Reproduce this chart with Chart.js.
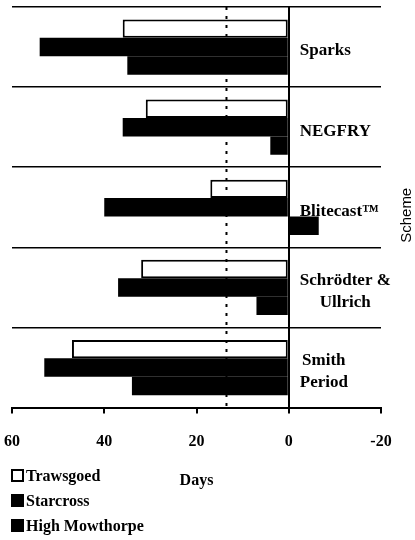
<!DOCTYPE html>
<html>
<head>
<meta charset="utf-8">
<script src="https://cdn.jsdelivr.net/npm/chart.js@4.4.1/dist/chart.umd.min.js"></script>
<style>
  body { margin: 0; background: #fff; }
  #wrap { position: relative; width: 415px; height: 540px; }
  #legend { position: absolute; left: 11px; top: 463px; font: bold 16px "Liberation Serif", serif; color: #000; }
  .item { display: flex; align-items: center; height: 25px; }
  .box { width: 9px; height: 9px; border: 2px solid #000; margin-right: 2px; }
</style>
</head>
<body>
<div id="wrap">
  <canvas id="chart"></canvas>
  <div id="legend"></div>
</div>
<script>
// Days per forecasting scheme at each site
const schemes = ['Sparks', 'NEGFRY', 'Blitecast™', ['Schrödter &', 'Ullrich'], ['Smith', 'Period']];
const trawsgoed = [36, 31, 17, 32, 47];
const starcross = [54, 36, 40, 37, 53];
const highMowthorpe = [35, 4, -6.5, 7, 34];
const dayTicks = [60, 40, 20, 0, -20];
const markerDay = 13.5;

const serif = 'Liberation Serif';

const series = [
  { label: 'Trawsgoed', data: trawsgoed, fill: '#fff' },
  { label: 'Starcross', data: starcross, fill: '#000' },
  { label: 'High Mowthorpe', data: highMowthorpe, fill: '#000' }
];

// dotted line, scheme names beside zero, and the rotated "Scheme" title
const overlay = {
  id: 'overlay',
  afterDatasetsDraw(chart) {
    const { ctx, chartArea } = chart;
    const x = chart.scales.x, y = chart.scales.y;
    ctx.save();

    const dx = x.getPixelForValue(markerDay);
    ctx.strokeStyle = '#000';
    ctx.lineWidth = 2;
    ctx.setLineDash([3, 6]);
    ctx.beginPath();
    ctx.moveTo(dx, chartArea.top);
    ctx.lineTo(dx, chartArea.bottom + 4);
    ctx.stroke();
    ctx.setLineDash([]);

    ctx.font = 'bold 17px "' + serif + '"';
    ctx.fillStyle = '#000';
    ctx.textAlign = 'center';
    ctx.textBaseline = 'middle';
    const left = x.getPixelForValue(0) + 11;
    schemes.forEach((name, i) => {
      const lines = [].concat(name);
      const w = Math.max(...lines.map(l => ctx.measureText(l).width));
      const cy = y.getPixelForValue(i) + 4 - (lines.length - 1) * 11;
      lines.forEach((l, j) => ctx.fillText(l, left + w / 2, cy + j * 22));
    });

    ctx.font = '15px "Liberation Sans"';
    ctx.translate(407, (chartArea.top + chartArea.bottom) / 2 + 8);
    ctx.rotate(-Math.PI / 2);
    ctx.fillText('Scheme', 0, 0);
    ctx.restore();
  }
};

new Chart(document.getElementById('chart'), {
  type: 'bar',
  data: {
    labels: schemes,
    datasets: series.map(s => ({
      label: s.label,
      data: s.data,
      backgroundColor: s.fill,
      borderColor: '#000',
      borderWidth: s.fill === '#fff' ? 2 : 0,
      borderSkipped: false
    }))
  },
  options: {
    indexAxis: 'y',
    responsive: true,
    maintainAspectRatio: false,
    animation: false,
    categoryPercentage: 0.69,
    barPercentage: 1,
    layout: { padding: { left: 12, right: 34, top: 7, bottom: 50 } },
    plugins: { legend: { display: false }, tooltip: { enabled: false } },
    scales: {
      x: {
        reverse: true,
        min: -20,
        max: 60,
        afterBuildTicks: s => { s.ticks = dayTicks.map(v => ({ value: v })); },
        // end labels may hang past the plot edges
        afterFit: s => { s.paddingLeft = 0; s.paddingRight = 0; },
        grid: {
          color: c => (c.tick && c.tick.value === 0 ? '#000' : 'rgba(0,0,0,0)'),
          lineWidth: 2,
          tickColor: '#000',
          tickLength: 6
        },
        border: { color: '#000', width: 2 },
        ticks: { color: '#000', padding: 19, font: { family: serif, weight: 'bold', size: 16 } },
        title: {
          display: true,
          text: 'Days',
          color: '#000',
          font: { family: serif, weight: 'bold', size: 16 },
          padding: { top: 0, bottom: 0 }
        }
      },
      y: {
        position: 'right',
        ticks: { display: false },
        grid: { color: '#000', lineWidth: 1.5, drawTicks: false, offset: true },
        border: { display: false }
      }
    }
  },
  plugins: [overlay]
});

// legend, stacked down the bottom-left corner
const legend = document.getElementById('legend');
series.forEach(s => {
  const row = document.createElement('div');
  row.className = 'item';
  const box = document.createElement('span');
  box.className = 'box';
  box.style.background = s.fill;
  row.appendChild(box);
  row.appendChild(document.createTextNode(s.label));
  legend.appendChild(row);
});
</script>
</body>
</html>
